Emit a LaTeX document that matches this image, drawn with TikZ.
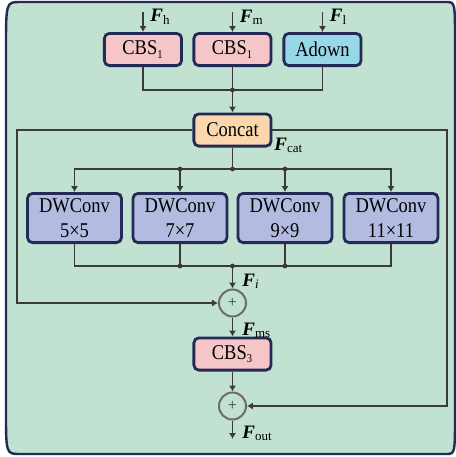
\documentclass[tikz,border=0pt]{standalone}
\usepackage{fontspec}
\setmainfont{Liberation Serif}
\newfontfamily\boxfont{Liberation Serif}[FakeStretch=0.88]
\usetikzlibrary{arrows.meta, positioning}

\definecolor{bggreen}{HTML}{C1E2D0}
\definecolor{navy}{HTML}{232A55}
\definecolor{cbspink}{HTML}{F5C6C8}
\definecolor{adownblue}{HTML}{97D7E8}
\definecolor{catorange}{HTML}{FAD7AC}
\definecolor{dwpurple}{HTML}{B3BCE0}
\definecolor{wire}{HTML}{3A3A3A}

\newcommand{\feat}[1]{{\bfseries\itshape F}\textsubscript{\fontsize{6.5}{7}\selectfont #1}}
\newcommand{\idx}[1]{\textsubscript{\fontsize{6}{7}\selectfont #1}}

\begin{document}
\begin{tikzpicture}[
x=0.5pt, y=-0.5pt,
font=\rmfamily\fontsize{9.5}{11}\selectfont,
box/.style={rectangle, rounded corners=2.5pt, draw=navy, line width=1.4pt, align=center, minimum width=38.6pt, minimum height=16.1pt, inner sep=1pt, font=\boxfont\fontsize{10.5}{12.5}\selectfont},
dwbox/.style={box, fill=dwpurple, minimum width=47pt, minimum height=24.6pt},
addop/.style={circle, draw=gray!85!black, line width=1pt, minimum size=13.5pt, inner sep=0pt, font=\rmfamily\fontsize{8}{8}\selectfont, text=wire},
line/.style={-{Latex[length=3pt, width=3.6pt]}, draw=wire, line width=0.7pt},
wireline/.style={draw=wire, line width=0.7pt},
dot/.style={circle, fill=wire, inner sep=0pt, minimum size=2.4pt},
lbl/.style={anchor=west, inner sep=0pt}
]
\useasboundingbox (0,0) rectangle (456,457);

% outer frame
\draw[fill=bggreen, draw=navy, line width=1.2pt]
  (20,2) -- (446,2) .. controls (455,2) .. (455,40) -- (455,415)
  .. controls (455,454) .. (446,454) -- (20,454)
  .. controls (6,454) .. (6,410) -- (6,50) .. controls (6,2) .. (20,2);

% input branch
\node[box, fill=cbspink] (cbsh) at (143,49.5) {CBS\idx{1}};
\node[box, fill=cbspink] (cbsm) at (232.5,49.5) {CBS\idx{1}};
\node[box, fill=adownblue] (adown) at (322.5,49.5) {Adown};
\node[box, fill=catorange] (concat) at (232.5,130) {Concat};

% multi-scale convs
\node[dwbox] (dw1) at (74.5,218) {DWConv\\5×5};
\node[dwbox] (dw2) at (180,218) {DWConv\\7×7};
\node[dwbox] (dw3) at (285,218) {DWConv\\9×9};
\node[dwbox] (dw4) at (391,218) {DWConv\\11×11};

\node[addop] (add1) at (232.5,303) {+};
\node[box, fill=cbspink] (cbs3) at (232.5,354) {CBS\idx{3}};
\node[addop] (add2) at (232.5,406) {+};

\coordinate (inh) at (143,12);
\coordinate (inm) at (232.5,12);
\coordinate (inl) at (322.5,12);
\coordinate (j1) at (232.5,90);
\coordinate (j2) at (232.5,169);
\coordinate (j3) at (232.5,266);
\coordinate (lft) at (17,303);
\coordinate (rgt) at (447,406);
\coordinate (out) at (232.5,439);

% labels
\node[lbl] (fh) at (150,17) {\feat{h}};
\node[lbl] (fm) at (239.5,17) {\feat{m}};
\node[lbl] (fl) at (329.5,17) {\feat{l}};
\node[lbl] (fcat) at (274,145) {\feat{cat}};
\node[lbl] (fi) at (242,281) {\feat{\itshape i}};
\node[lbl] (fms) at (242,330) {\feat{ms}};
\node[lbl] (fout) at (242,433) {\feat{out}};

\draw[line] (inh) -- (cbsh);
\draw[line] (inm) -- (cbsm);
\draw[line] (inl) -- (adown);

\draw[wireline] (cbsh.south) |- (j1);
\draw[wireline] (adown.south) |- (j1);
\draw[line] (cbsm.south) -- (concat.north);

\draw[wireline] (concat.south) -- (j2);
\draw[line] (j2) -| (dw1.north);
\draw[line] (j2) -| (dw2.north);
\draw[line] (j2) -| (dw3.north);
\draw[line] (j2) -| (dw4.north);

\draw[wireline] (dw1.south) |- (j3);
\draw[wireline] (dw4.south) |- (j3);
\draw[wireline] (dw2.south) -- (dw2.south |- j3);
\draw[wireline] (dw3.south) -- (dw3.south |- j3);
\draw[line] (j3) -- (add1);

\draw[line] (concat.west) -| (lft) -- (add1.west);
\draw[line] (concat.east) -| (rgt) -- (add2.east);

\draw[line] (add1) -- (cbs3);
\draw[line] (cbs3) -- (add2);
\draw[line] (add2) -- (out);

\node[dot] at (j1) {};
\node[dot] at (j2) {};
\node[dot] at (dw2.north |- j2) {};
\node[dot] at (dw3.north |- j2) {};
\node[dot] at (j3) {};
\node[dot] at (dw2.south |- j3) {};
\node[dot] at (dw3.south |- j3) {};
\end{tikzpicture}
\end{document}
